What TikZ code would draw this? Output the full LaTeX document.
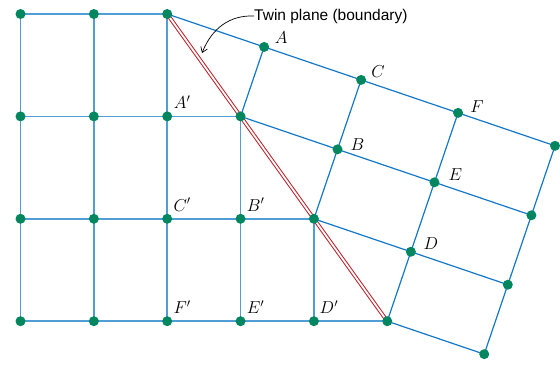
\documentclass[tikz,border=0pt]{standalone}
\usepackage{fontspec}
\newfontfamily\labelfont{Liberation Sans}
\usetikzlibrary{calc,arrows.meta}
\definecolor{gridblue}{RGB}{80,158,212}
\definecolor{twinblue}{RGB}{20,120,200}
\definecolor{dotgreen}{RGB}{0,135,95}
\definecolor{twinred}{RGB}{190,30,40}
\begin{document}
\begin{tikzpicture}[x=1pt,y=-1pt,
  gridline/.style={draw=gridblue,line width=1.7pt},
  twinline/.style={draw=twinblue,line width=1.2pt},
  dot/.style={circle,fill=dotgreen,inner sep=0pt,minimum size=10pt},
  lab/.style={font=\fontsize{17}{17}\selectfont,inner sep=0pt},
  plane/.style={draw=twinred,line width=1pt,double=white,double distance=1.8pt}]
\useasboundingbox (0,0) rectangle (560,366);
\foreach \i in {0,...,5}{\foreach \j in {0,...,3}{
  \coordinate (L-\i-\j) at ({20.5+73.35*\i},{14+102.4*\j});}}
\foreach \a in {0,...,3}{\foreach \b in {0,...,4}{
  \coordinate (R-\a-\b) at ({167.2-23.60*\a+96.955*\b},{14+69.45*\a+32.954*\b});}}
% parent grid
\foreach \j/\e in {0/2,1/3,2/4,3/5}{\draw[gridline] (L-0-\j) -- (L-\e-\j);}
\foreach \i in {0,1,2}{\draw[gridline] (L-\i-0) -- (L-\i-3);}
\draw[gridline] (L-3-1) -- (L-3-3);
\draw[gridline] (L-4-2) -- (L-4-3);
% twin lattice
\foreach \a in {0,...,3}{\draw[twinline] (R-\a-\a) -- (R-\a-4);}
\foreach \b/\e in {1/1,2/2,3/3,4/3}{\draw[twinline] (R-0-\b) -- (R-\e-\b);}
% twin plane
\draw[plane] (L-2-0) -- (L-5-3);
% dots
\foreach \i/\j in {0/0,1/0,2/0,0/1,1/1,2/1,3/1,0/2,1/2,2/2,3/2,4/2,0/3,1/3,2/3,3/3,4/3,5/3}{
  \node[dot] (dL-\i-\j) at (L-\i-\j) {};}
\foreach \a/\b in {0/1,0/2,0/3,0/4,1/2,1/3,1/4,2/3,2/4,3/4}{
  \node[dot] (dR-\a-\b) at (R-\a-\b) {};}
% labels
\node[lab] (labA) at ($(R-0-1)+(17,-9)$) {$A$};
\node[lab] (labC) at ($(R-0-2)+(17,-8)$) {$C$};
\node[lab] (labF) at ($(R-0-3)+(19,-6)$) {$F$};
\node[lab] (labB) at ($(R-1-2)+(20,-5)$) {$B$};
\node[lab] (labE) at ($(R-1-3)+(21,-8)$) {$E$};
\node[lab] (labD) at ($(R-2-3)+(20,-8)$) {$D$};
\node[lab] (labAp) at ($(L-2-1)+(15,-14)$) {$A'$};
\node[lab] (labCp) at ($(L-2-2)+(15,-14)$) {$C'$};
\node[lab] (labBp) at ($(L-3-2)+(15,-14)$) {$B'$};
\node[lab] (labFp) at ($(L-2-3)+(15,-14)$) {$F'$};
\node[lab] (labEp) at ($(L-3-3)+(15,-14)$) {$E'$};
\node[lab] (labDp) at ($(L-4-3)+(15,-14)$) {$D'$};
% twin plane caption
\node[anchor=west,inner sep=0pt,font=\labelfont\fontsize{15.5}{15}\selectfont] (tp) at (254,16) {Twin plane (boundary)};
\coordinate (tptip) at (202,53);
\draw[line width=0.7pt,-{Straight Barb[length=5pt,width=7pt]}] (tp.west) .. controls (230,15) and (212,28) .. (tptip);
\end{tikzpicture}
\end{document}
